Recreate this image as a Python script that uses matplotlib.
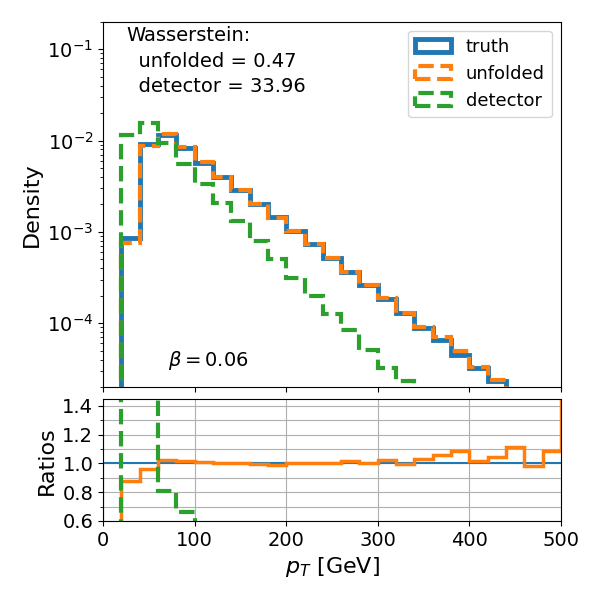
import numpy as np
import matplotlib
matplotlib.use("Agg")
import matplotlib.pyplot as plt
from matplotlib.ticker import MultipleLocator

plt.rcParams['font.size'] = 14

# bin edges in GeV (20 GeV bins)
edges = np.arange(0, 540, 20)

# densities per bin
truth = np.array([0, 8.5e-4, 9.1e-3, 1.15e-2, 8.3e-3, 5.7e-3, 4.0e-3, 2.9e-3,
                  2.04e-3, 1.45e-3, 1.02e-3, 7.3e-4, 5.2e-4, 3.6e-4, 2.6e-4,
                  1.83e-4, 1.30e-4, 8.9e-5, 6.6e-5, 4.5e-5, 3.25e-5, 2.3e-5,
                  1.6e-5, 1.15e-5, 8.0e-6, 5.5e-6])
unfolded = np.array([0, 7.47e-4, 8.76e-3, 1.176e-2, 8.45e-3, 5.76e-3, 4.01e-3,
                     2.906e-3, 2.026e-3, 1.43e-3, 1.02e-3, 7.3e-4, 5.2e-4,
                     3.66e-4, 2.6e-4, 1.867e-4, 1.294e-4, 9.17e-5, 7.0e-5,
                     4.9e-5, 3.30e-5, 2.40e-5, 1.78e-5, 1.13e-5, 8.7e-6, 8.8e-6])
detector = np.array([0, 1.15e-2, 1.54e-2, 9.3e-3, 5.5e-3, 3.3e-3, 2.05e-3,
                     1.3e-3, 7.9e-4, 5.0e-4, 3.16e-4, 1.96e-4, 1.26e-4, 8.4e-5,
                     5.1e-5, 3.2e-5, 2.33e-5, 1.5e-5, 1.0e-5, 7.0e-6, 5.0e-6,
                     3.5e-6, 2.5e-6, 1.8e-6, 1.2e-6, 8.0e-7])

w_unfolded = 0.47
w_detector = 33.96
beta = 0.06

centers = edges[:-1] + 10

def ratio(a, b):
    with np.errstate(divide='ignore', invalid='ignore'):
        r = np.where(b > 0, a / np.where(b > 0, b, 1), 0.0)
    return r

r_truth = np.ones_like(truth)
r_unf = ratio(unfolded, truth)
r_det = ratio(detector, truth)

fig = plt.figure(figsize=(6, 6), dpi=100)
ax = fig.add_axes([0.1717, 0.355, 0.7633, 0.6088])
axr = fig.add_axes([0.1717, 0.1317, 0.7633, 0.2028])

ax.hist(centers, bins=edges, weights=truth, histtype='step', color='C0',
        lw=3.5, label='truth')
ax.hist(centers, bins=edges, weights=unfolded, histtype='step', color='C1',
        lw=3, ls='--', label='unfolded')
ax.hist(centers, bins=edges, weights=detector, histtype='step', color='C2',
        lw=3, ls='--', label='detector')
ax.set_yscale('log')
ax.set_ylim(2e-5, 0.2)
ax.set_xlim(0, 500)
ax.set_xticks([0, 100, 200, 300, 400, 500])
ax.tick_params(axis='x', labelbottom=False)
ax.set_ylabel('Density', fontsize=16)
ax.legend(loc='upper right', fontsize=13)
ax.text(0.05, 0.987,
        'Wasserstein:\n  unfolded = %.2f\n  detector = %.2f' % (w_unfolded, w_detector),
        transform=ax.transAxes, ha='left', va='top', linespacing=1.42)
ax.text(0.142, 0.057, r'$\beta = %.2f$' % beta, transform=ax.transAxes,
        ha='left', va='baseline')

axr.stairs(r_truth, edges, color='C0', lw=1.5, baseline=0)
axr.stairs(r_unf, edges, color='C1', lw=2.5, baseline=0)
axr.stairs(r_det, edges, color='C2', lw=3, ls='--', baseline=0)
axr.set_xlim(0, 500)
axr.set_ylim(0.6, 1.445)
axr.set_yticks([0.6, 0.8, 1.0, 1.2, 1.4])
axr.yaxis.set_minor_locator(MultipleLocator(0.1))
axr.set_xticks([0, 100, 200, 300, 400, 500])
axr.grid(True, which='major')
axr.yaxis.grid(True, which='minor')
axr.set_axisbelow(True)
axr.set_ylabel('Ratios', fontsize=16)
axr.set_xlabel(r'$p_T$ [GeV]', fontsize=16)

fig.savefig('out.png', dpi=100)
